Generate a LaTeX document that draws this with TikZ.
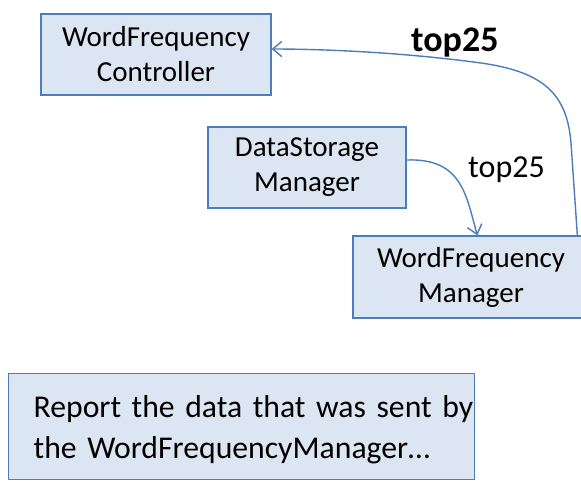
\documentclass[tikz,border=0pt]{standalone}
\usepackage{fontspec}
\setmainfont{Carlito}
\usetikzlibrary{arrows.meta}
\definecolor{boxfill}{RGB}{220,230,242}
\definecolor{boxline}{RGB}{74,126,187}
\definecolor{linkline}{RGB}{74,126,187}
\tikzset{
  boxnode/.style={draw=boxline, fill=boxfill, line width=1.3pt, inner sep=0pt,
    align=center, font=\fontsize{29}{35}\selectfont},
  link/.style={draw=linkline, line width=1.4pt, -{Straight Barb[length=9pt,width=15pt]}},
  linklabel/.style={inner sep=0pt, anchor=base west}
}
\begin{document}
\begin{tikzpicture}[x=1pt,y=-1pt]
\path[use as bounding box, fill=white] (0,0) rectangle (581,483);
\node[boxnode, minimum width=230pt, minimum height=81pt] (wfc) at (156,54.5) {WordFrequency\\Controller};
\node[boxnode, minimum width=198pt, minimum height=81pt] (dsm) at (307,167.5) {DataStorage\\Manager};
\node[boxnode, minimum width=236pt, minimum height=82pt] (wfm) at (471,277) {WordFrequency\\Manager};
\node[draw=boxline, fill=boxfill, line width=1.3pt, anchor=north west, align=left,
  inner xsep=0pt, inner ysep=22pt, text width=466pt, text depth=40pt,
  font=\fontsize{31.7}{40.5}\selectfont] (rep) at (8,373)
  {\hspace*{25pt}\mbox{Report the data that was sent by}\\\hspace*{25pt}\mbox{the WordFrequencyManager…}};
\coordinate (a1s) at ([yshift=7.5pt]dsm.east);
\coordinate (a1e) at ([xshift=125pt]wfm.north west);
\coordinate (a2s) at ([xshift=225pt]wfm.north west);
\coordinate (a2e) at ([yshift=5.5pt]wfc.east);
\draw[link] (a1s) .. controls (462,158) and (466,195) .. (a1e);
\draw[link] (a2s) -- (571,143) .. controls (567,95) and (545,72) .. (481,63)
  .. controls (400,52) and (320,49) .. (a2e);
\node[linklabel, font=\fontsize{36}{40}\selectfont\bfseries] (lab1) at (411,51) {top25};
\node[linklabel, font=\fontsize{32}{38}\selectfont] (lab2) at (468,177) {top25};
\end{tikzpicture}
\end{document}
